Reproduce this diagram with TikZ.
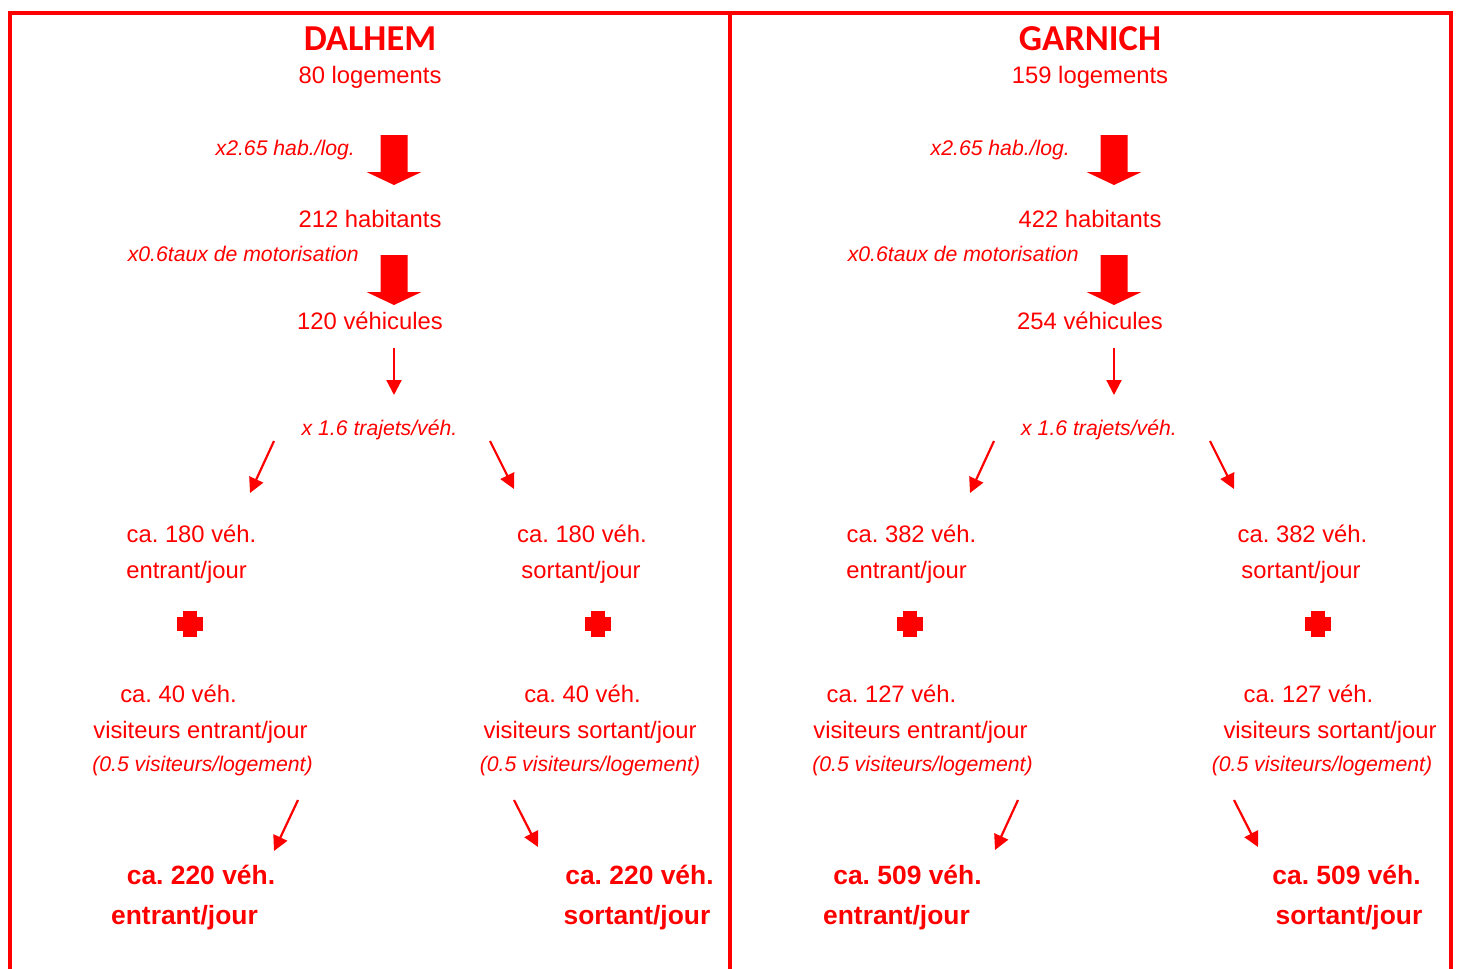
\documentclass[tikz,border=0pt]{standalone}
\usepackage{fontspec}
\setmainfont{Liberation Sans}
\newfontfamily\titlefont{Carlito}
\usetikzlibrary{arrows.meta}
\definecolor{rred}{RGB}{255,0,0}
\frenchspacing
\tikzset{
  txt/.style={inner sep=0pt, anchor=base, text=rred, font=\fontsize{23.8}{28}\selectfont},
  itx/.style={inner sep=0pt, anchor=base, text=rred, font=\fontsize{21.2}{25}\selectfont\itshape},
  bld/.style={inner sep=0pt, anchor=base, text=rred, font=\fontsize{26.4}{30}\selectfont\bfseries},
  ttl/.style={inner sep=0pt, anchor=base, text=rred, font=\titlefont\fontsize{36.5}{40}\selectfont\bfseries},
  conn/.style={draw=rred, line width=2.2pt, -{Triangle[length=15pt,width=15pt]}},
  frame/.style={draw=rred, line width=4pt},
  bigarr/.pic={\fill[rred] (-13.5,0) -- (13.5,0) -- (13.5,37) -- (27.5,37) -- (0,50) -- (-27.5,37) -- (-13.5,37) -- cycle;},
  plussign/.pic={\fill[rred] (-7,-13) rectangle (7,13); \fill[rred] (-13,-7) rectangle (13,7);}
}
\begin{document}
\begin{tikzpicture}[x=1pt,y=-1pt]
\useasboundingbox (0,0) rectangle (1459,969);
% frame
\draw[frame] (10,969) -- (10,13) -- (1450.5,13) -- (1450.5,969);
\draw[frame] (730,13) -- (730,969);

% ---------- DALHEM ----------
\node[ttl] (t1) at (370,50) {DALHEM};
\node[txt] (l1) at (370,83) {80 logements};
\node[itx, anchor=base east] (f1) at (355,155) {x2.65 hab./log.};
\pic at (394,135) {bigarr};
\node[txt] (h1) at (370,227) {212 habitants};
\node[itx, anchor=base east] (m1) at (359,261) {x0.6taux de motorisation};
\pic at (394,255) {bigarr};
\node[txt] (v1) at (370,329) {120 véhicules};
\coordinate (d1s) at (394,348); \coordinate (d1e) at (394,395);
\draw[conn] (d1s) -- (d1e);
\node[itx] (tr1) at (379.5,435) {x 1.6 trajets/véh.};
\coordinate (a1s) at (274,441); \coordinate (a1e) at (250,493);
\coordinate (b1s) at (490,441); \coordinate (b1e) at (514,489);
\draw[conn] (a1s) -- (a1e);
\draw[conn] (b1s) -- (b1e);
\node[txt] (e1a) at (191.5,542) {ca. 180 véh.};
\node[txt] (e1b) at (186.5,578) {entrant/jour};
\node[txt] (s1a) at (582,542) {ca. 180 véh.};
\node[txt] (s1b) at (581,578) {sortant/jour};
\pic at (190,624) {plussign};
\pic at (598,624) {plussign};
\node[txt] (ve1a) at (178.5,702) {ca. 40 véh.};
\node[txt] (ve1b) at (200.5,738) {visiteurs entrant/jour};
\node[itx] (ve1c) at (202.5,771) {(0.5 visiteurs/logement)};
\node[txt] (vs1a) at (582.5,702) {ca. 40 véh.};
\node[txt] (vs1b) at (590,738) {visiteurs sortant/jour};
\node[itx] (vs1c) at (590,771) {(0.5 visiteurs/logement)};
\coordinate (c1s) at (298,800); \coordinate (c1e) at (274,851);
\coordinate (g1s) at (514,800); \coordinate (g1e) at (538,847);
\draw[conn] (c1s) -- (c1e);
\draw[conn] (g1s) -- (g1e);
\node[bld] (te1a) at (201,884) {ca. 220 véh.};
\node[bld] (te1b) at (184.5,924) {entrant/jour};
\node[bld] (ts1a) at (639.5,884) {ca. 220 véh.};
\node[bld] (ts1b) at (637,924) {sortant/jour};

% ---------- GARNICH ----------
\node[ttl] (t2) at (1090,50) {GARNICH};
\node[txt] (l2) at (1090,83) {159 logements};
\node[itx, anchor=base east] (f2) at (1070,155) {x2.65 hab./log.};
\pic at (1114,135) {bigarr};
\node[txt] (h2) at (1090,227) {422 habitants};
\node[itx, anchor=base east] (m2) at (1079,261) {x0.6taux de motorisation};
\pic at (1114,255) {bigarr};
\node[txt] (v2) at (1090,329) {254 véhicules};
\coordinate (d2s) at (1114,348); \coordinate (d2e) at (1114,395);
\draw[conn] (d2s) -- (d2e);
\node[itx] (tr2) at (1099,435) {x 1.6 trajets/véh.};
\coordinate (a2s) at (994,441); \coordinate (a2e) at (970,493);
\coordinate (b2s) at (1210,441); \coordinate (b2e) at (1234,489);
\draw[conn] (a2s) -- (a2e);
\draw[conn] (b2s) -- (b2e);
\node[txt] (e2a) at (911.5,542) {ca. 382 véh.};
\node[txt] (e2b) at (906.5,578) {entrant/jour};
\node[txt] (s2a) at (1302.5,542) {ca. 382 véh.};
\node[txt] (s2b) at (1301,578) {sortant/jour};
\pic at (910,624) {plussign};
\pic at (1318,624) {plussign};
\node[txt] (ve2a) at (891.5,702) {ca. 127 véh.};
\node[txt] (ve2b) at (920.5,738) {visiteurs entrant/jour};
\node[itx] (ve2c) at (922.5,771) {(0.5 visiteurs/logement)};
\node[txt] (vs2a) at (1308.5,702) {ca. 127 véh.};
\node[txt] (vs2b) at (1330,738) {visiteurs sortant/jour};
\node[itx] (vs2c) at (1322,771) {(0.5 visiteurs/logement)};
\coordinate (c2s) at (1018,800); \coordinate (c2e) at (995,850);
\coordinate (g2s) at (1234,800); \coordinate (g2e) at (1258,847);
\draw[conn] (c2s) -- (c2e);
\draw[conn] (g2s) -- (g2e);
\node[bld] (te2a) at (907.5,884) {ca. 509 véh.};
\node[bld] (te2b) at (896.5,924) {entrant/jour};
\node[bld] (ts2a) at (1346.5,884) {ca. 509 véh.};
\node[bld] (ts2b) at (1349,924) {sortant/jour};
\end{tikzpicture}
\end{document}
